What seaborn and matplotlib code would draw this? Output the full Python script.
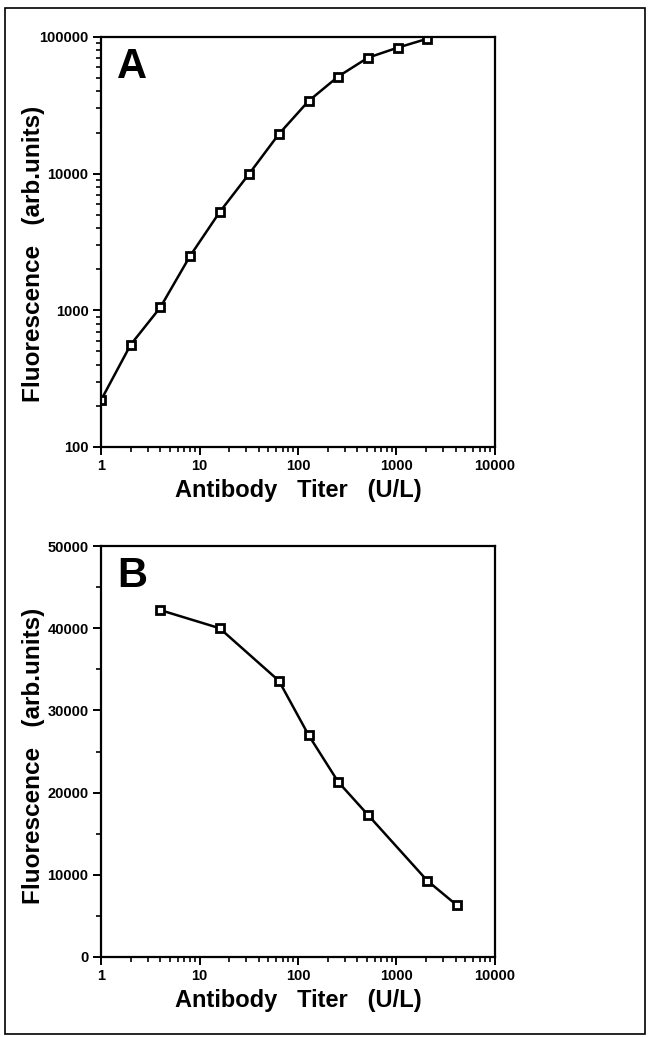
import numpy as np
import pandas as pd
import matplotlib
matplotlib.use("Agg")
import matplotlib.pyplot as plt
import matplotlib.ticker as mticker
from matplotlib.patches import Rectangle
import seaborn as sns

# Panel A data (log-log)
titer_a = [1, 2, 4, 8, 16, 32, 64, 128, 256, 512, 1024, 2048]
fluor_a = [220, 560, 1050, 2490, 5230, 10000, 19500, 34000, 51400, 70500, 83500, 97000]

# Panel B data (log x, linear y)
titer_b = [4, 16, 64, 128, 256, 512, 2048, 4096]
fluor_b = [42200, 40000, 33600, 27000, 21300, 17300, 9300, 6300]

x_ticks = [1, 10, 100, 1000, 10000]
y_ticks_a = [100, 1000, 10000, 100000]
y_ticks_b = [0, 10000, 20000, 30000, 40000, 50000]

sns.set_style("ticks")
plt.rcParams['font.family'] = ['Liberation Sans', 'DejaVu Sans']
plt.rcParams['text.color'] = 'black'
plt.rcParams['axes.labelcolor'] = 'black'
plt.rcParams['xtick.color'] = 'black'
plt.rcParams['ytick.color'] = 'black'
plt.rcParams['axes.edgecolor'] = 'black'

fig = plt.figure(figsize=(6.51, 10.37), dpi=100)
W, H = 651, 1037

def axes_px(l, t, r, b):
    return fig.add_axes([l / W, 1 - b / H, (r - l) / W, (b - t) / H])

axA = axes_px(101, 37, 495, 447)
axB = axes_px(101, 546, 495, 957)

dfA = pd.DataFrame({"titer": titer_a, "fluor": fluor_a})
dfB = pd.DataFrame({"titer": titer_b, "fluor": fluor_b})

line_kw = dict(color="black", linewidth=1.8, marker="s", markersize=5.5,
               markerfacecolor="white", markeredgecolor="black", markeredgewidth=2.0)

sns.lineplot(data=dfA, x="titer", y="fluor", ax=axA, **line_kw)
sns.lineplot(data=dfB, x="titer", y="fluor", ax=axB, **line_kw)

fmt = mticker.FuncFormatter(lambda v, p: f"{int(round(v))}")

axA.set_yscale("log")
axA.set_ylim(100, 100000)
axA.set_yticks(y_ticks_a)
axA.yaxis.set_major_formatter(fmt)
axA.yaxis.set_minor_locator(mticker.LogLocator(base=10, subs=np.arange(2, 10)))
axA.yaxis.set_minor_formatter(mticker.NullFormatter())

axB.set_ylim(0, 50000)
axB.set_yticks(y_ticks_b)
axB.yaxis.set_major_formatter(fmt)
axB.yaxis.set_minor_locator(mticker.MultipleLocator(5000))

for ax, ylab_y in ((axA, 0.47), (axB, 0.49)):
    ax.set_xscale("log")
    ax.set_xlim(1, 10000)
    ax.set_xticks(x_ticks)
    ax.xaxis.set_major_formatter(fmt)
    ax.xaxis.set_minor_locator(mticker.LogLocator(base=10, subs=np.arange(2, 10)))
    ax.xaxis.set_minor_formatter(mticker.NullFormatter())
    for s in ax.spines.values():
        s.set_linewidth(1.6)
        s.set_color("black")
    ax.tick_params(which="major", direction="out", length=6, width=1.4,
                   labelsize=10.5, pad=3, colors="black")
    ax.tick_params(which="minor", direction="out", length=3.5, width=1.2)
    ax.set_xlabel("Antibody   Titer   (U/L)", fontsize=17, fontweight="bold", labelpad=4)
    ax.set_ylabel("Fluorescence   (arb.units)", fontsize=17.5, fontweight="bold")
    ax.yaxis.set_label_coords(-0.142, ylab_y)
    for lab in ax.get_xticklabels() + ax.get_yticklabels():
        lab.set_fontweight("bold")

axA.text(0.04, 0.975, "A", transform=axA.transAxes, fontsize=30,
         fontweight="bold", va="top", ha="left")
axB.text(0.04, 0.975, "B", transform=axB.transAxes, fontsize=30,
         fontweight="bold", va="top", ha="left")

fig.patches.append(Rectangle((5 / W, 1 - 1034 / H), 640 / W, 1026 / H,
                             transform=fig.transFigure, fill=False,
                             edgecolor="black", linewidth=1.2))

fig.savefig("out.png", dpi=100)
